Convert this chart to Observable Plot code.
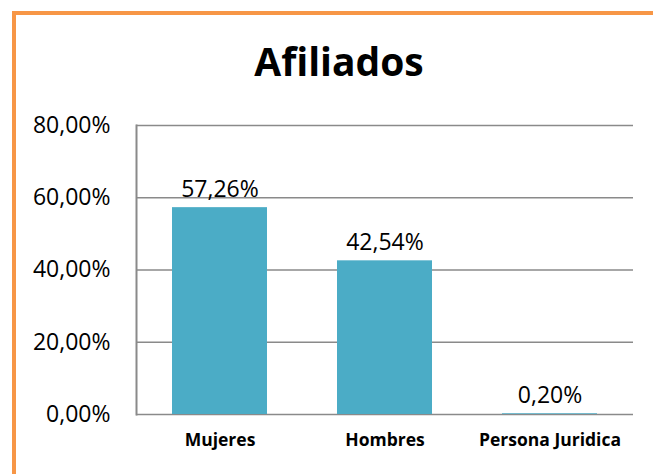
<!DOCTYPE html>
<html>
<head>
<meta charset="utf-8">
<script src="https://cdn.jsdelivr.net/npm/d3@7"></script>
<script src="https://cdn.jsdelivr.net/npm/@observablehq/plot@0.6"></script>
<style>
  html, body { margin: 0; padding: 0; background: #fff; }
  #wrap { position: relative; width: 653px; height: 474px; overflow: hidden; background: #fff; font-family: "Open Sans", sans-serif; }
  #border { position: absolute; left: 12px; top: 11px; width: 700px; height: 500px; border-left: 4px solid #F79646; border-top: 4px solid #F79646; pointer-events: none; z-index: 2; }
  #title { position: absolute; left: 189px; width: 300px; top: 41px; line-height: 40px; text-align: center; font-weight: 700; font-size: 39px; color: #000; z-index: 1; }
  #chart { position: absolute; left: 0; top: 0; }
</style>
</head>
<body>
<div id="wrap">
  <div id="chart"></div>
  <div id="title">Afiliados</div>
  <div id="border"></div>
</div>
<script>
const categories = ["Mujeres", "Hombres", "Persona Juridica"];
const values = [0.5726, 0.4254, 0.0020];
const yTicks = [0, 0.2, 0.4, 0.6, 0.8];

const data = categories.map((c, i) => ({category: c, value: values[i]}));
const pct = v => d3.format(".2%")(v).replace(".", ",");

const chart = Plot.plot({
  width: 653,
  height: 474,
  marginLeft: 136,
  marginRight: 20,
  marginTop: 125,
  marginBottom: 60,
  style: {background: "transparent", fontFamily: "Open Sans, sans-serif", color: "#000"},
  x: {domain: categories, paddingInner: 0.427, paddingOuter: 0.2135, label: null},
  y: {domain: [0, 0.8], ticks: yTicks, label: null},
  marks: [
    Plot.gridY(yTicks, {stroke: "#8a8a8a", strokeOpacity: 1, strokeWidth: 1.5}),
    Plot.frame({anchor: "left", stroke: "#8a8a8a", strokeWidth: 2}),
    Plot.barY(data, {x: "category", y: "value", fill: "#4BACC6"}),
    Plot.text(data, {x: "category", y: "value", text: d => pct(d.value), lineAnchor: "bottom", dy: -11, fontSize: 23, fill: "#000"}),
    Plot.axisY(yTicks, {tickSize: 0, tickPadding: 26, tickFormat: d => pct(d), fontSize: 23, fill: "#000"}),
    Plot.axisX({tickSize: 0, tickPadding: 19, fontSize: 17.5, fontWeight: "bold", fill: "#000"})
  ]
});
document.getElementById("chart").appendChild(chart);
</script>
</body>
</html>
